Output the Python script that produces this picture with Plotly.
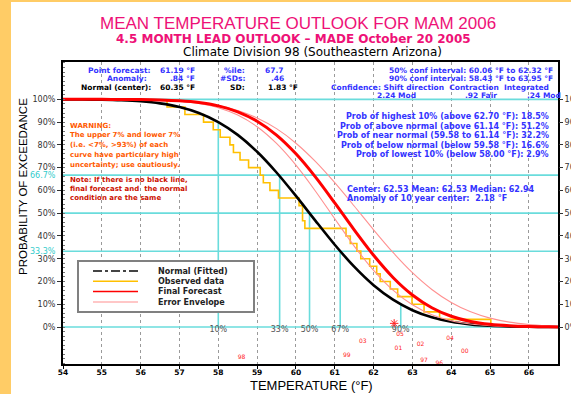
import plotly.graph_objects as go

# ---------------- data ----------------
temps = [54.0, 54.5, 55.0, 55.5, 56.0, 56.5, 57.0, 57.5, 58.0, 58.5, 59.0, 59.5, 60.0,
         60.5, 61.0, 61.5, 62.0, 62.5, 63.0, 63.5, 64.0, 64.5, 65.0, 65.5, 66.0, 66.5, 66.75]
normal_fit = [99.97, 99.93, 99.83, 99.60, 99.13, 98.23, 96.64, 94.03, 90.04, 84.40, 76.97, 67.87, 57.57,
              46.73, 36.13, 26.50, 18.36, 12.00, 7.38, 4.26, 2.30, 1.17, 0.55, 0.24, 0.10, 0.04, 0.02]
final_fcst = [100.0, 100.0, 99.99, 99.96, 99.90, 99.74, 99.37, 98.60, 97.12, 94.53, 90.38, 84.28, 76.06,
              65.94, 54.50, 42.66, 31.49, 21.77, 14.07, 8.46, 4.72, 2.44, 1.17, 0.52, 0.21, 0.08, 0.04]
env_low = [100.0, 100.0, 99.99, 99.96, 99.88, 99.67, 99.20, 98.21, 96.33, 93.07, 87.96, 80.62, 71.09,
           59.75, 47.53, 35.56, 24.86, 16.16, 9.75, 5.42, 2.78, 1.31, 0.57, 0.23, 0.08, 0.03, 0.01]
env_high = [100.0, 99.99, 99.98, 99.94, 99.85, 99.66, 99.28, 98.55, 97.26, 95.13, 91.85, 87.12, 80.73,
            72.74, 63.38, 53.15, 42.70, 32.74, 23.86, 16.50, 10.80, 6.68, 3.90, 2.14, 1.10, 0.53, 0.34]

# observed seasonal means (sorted), drawn as empirical exceedance steps
observed = [56.68, 57.14, 57.62, 57.87, 58.05, 58.30, 58.39, 58.56, 58.78, 59.08, 59.16, 59.33, 59.55,
            60.08, 60.17, 60.17, 60.23, 61.29, 61.40, 61.57, 61.67, 61.90, 62.08, 62.17, 62.43, 62.62,
            62.99, 63.30, 63.70, 65.02]

ref_levels = [0, 33.3, 50, 66.7, 100]
pct_temps = [58.00, 59.58, 60.35, 61.14, 62.70]
pct_heights = [90, 66.7, 50, 33.3, 10]
pct_labels = ["10%", "33%", "50%", "67%", "90%"]

year_labels = ["98", "99", "03", "05", "01", "02", "97", "96", "04", "00"]
year_temps = [58.60, 61.31, 61.72, 62.68, 62.64, 63.21, 63.30, 63.69, 63.97, 64.35]
year_ypos = [-13.2, -12.4, -6.5, -3.5, -9.4, -7.9, -14.8, -16.0, -5.0, -10.8]
center_10yr = 62.53

x_ticks = list(range(54, 67))
y_ticks = list(range(0, 101, 10))

# ---------------- figure ----------------
CYAN = "#6ADCDC"
fig = go.Figure()

for lv in ref_levels:
    fig.add_trace(go.Scatter(x=[54, 66.75], y=[lv, lv], mode="lines",
                             line=dict(color=CYAN, width=1.6), hoverinfo="skip"))
for t, h in zip(pct_temps, pct_heights):
    fig.add_trace(go.Scatter(x=[t, t], y=[0, h], mode="lines",
                             line=dict(color=CYAN, width=1.6), hoverinfo="skip"))

n = len(observed)
obs_exceed = [100.0 * (n - i - 1) / n for i in range(n)]
fig.add_trace(go.Scatter(x=[observed[0]] + observed, y=[100.0] + obs_exceed, mode="lines",
                         line=dict(color="#FFC000", width=1.6, shape="hv")))

fig.add_trace(go.Scatter(x=temps, y=normal_fit, mode="lines",
                         line=dict(color="black", width=2.6, shape="spline", smoothing=0.8)))
fig.add_trace(go.Scatter(x=temps, y=env_low, mode="lines",
                         line=dict(color="#FF9090", width=1.1, shape="spline", smoothing=0.8)))
fig.add_trace(go.Scatter(x=temps, y=env_high, mode="lines",
                         line=dict(color="#FF9090", width=1.1, shape="spline", smoothing=0.8)))
fig.add_trace(go.Scatter(x=temps, y=final_fcst, mode="lines",
                         line=dict(color="#FF0000", width=3, shape="spline", smoothing=0.8)))

fig.add_trace(go.Scatter(x=pct_temps, y=[-1.5] * len(pct_temps), mode="text", text=pct_labels,
                         textfont=dict(size=8, color="#555555", family="DejaVu Sans")))
fig.add_trace(go.Scatter(x=year_temps, y=year_ypos, mode="text", text=year_labels,
                         textfont=dict(size=6, color="#FF2222", family="DejaVu Sans")))
fig.add_trace(go.Scatter(x=[center_10yr], y=[1.6], mode="markers",
                         marker=dict(symbol="asterisk-open", size=7, color="#FF2222",
                                     line=dict(color="#FF2222", width=1))))
# invisible trace for right axis
fig.add_trace(go.Scatter(x=[54], y=[0], yaxis="y2", mode="markers", marker=dict(opacity=0),
                         hoverinfo="skip"))

# ---------------- pixel helpers for layout placement ----------------
L, R, T, B = 63, 558, 62, 364
def X(px):
    return (px - L) / (R - L)
def Y(py):
    return (B - py) / (B - T)

anns = []
def ann(text, px, py, size=7.5, color="#3333FF", anchor="left", bold=True, family="DejaVu Sans", **kw):
    anns.append(dict(text=("<b>%s</b>" % text) if bold else text, x=X(px), y=Y(py),
                     xref="paper", yref="paper", xanchor=anchor, yanchor="middle",
                     showarrow=False, font=dict(size=size, color=color, family=family), **kw))

MAG = "#EE1177"
ann("MEAN TEMPERATURE OUTLOOK FOR MAM 2006", 298, 23.5, size=17, color=MAG, anchor="center",
    bold=False, family="Liberation Sans")
ann("4.5 MONTH LEAD OUTLOOK – MADE October 20 2005", 293, 39.5, size=12, color=MAG,
    anchor="center", family="DejaVu Sans")
ann("Climate Division 98 (Southeastern Arizona)", 312, 51.5, size=12, color="black",
    anchor="center", bold=False)

r1, r2, r3, r4 = 70.5, 79, 87.5, 95.5
ann("Point forecast:", 153, r1, anchor="right")
ann("61.19 °F", 197, r1, anchor="right")
ann("Anomaly:", 149, r2, anchor="right")
ann(".84 °F", 197, r2, anchor="right")
ann("Normal (center):", 153, r3, anchor="right", color="black")
ann("60.35 °F", 197, r3, anchor="right", color="black")
ann("%ile:", 247, r1, anchor="right")
ann("67.7", 286, r1, anchor="right")
ann("#SDs:", 247, r2, anchor="right")
ann(".46", 286, r2, anchor="right")
ann("SD:", 247, r3, anchor="right", color="black")
ann("1.83 °F", 300, r3, anchor="right", color="black")
ann("50% conf interval: 60.06 °F to 62.32 °F", 555, r1, anchor="right")
ann("90% conf interval: 58.43 °F to 63.95 °F", 555, r2, anchor="right")
ann("Confidence: Shift direction  Contraction  Integrated", 551, r3, anchor="right")
ann("2.24 Mod", 396, r4, anchor="center")
ann(".92 Fair", 481, r4, anchor="center")
ann(".24 Mod", 544, r4, anchor="center")

ORG = "#FF5A00"
warn = ["WARNING:", "The upper 7% and lower 7%", "(i.e. <7%, >93%) of each",
        "curve have particulary high", "uncertainty; use cautiously."]
for i, line in enumerate(warn):
    ann(line, 68, 125.5 + 9.9 * i, size=7, color=ORG)
note = ["Note: If there is no black line,", "final forecast and  the normal", "condition are the same"]
for i, line in enumerate(note):
    ann(line, 68, 179.5 + 9.4 * i, size=7, color="#CC1100")

probs = ["Prob of highest 10% (above 62.70 °F): 18.5%",
         "Prob of above normal (above 61.14 °F): 51.2%",
         "Prob of near normal (59.58 to 61.14 °F): 32.2%",
         "Prob of below normal (below 59.58 °F): 16.6%",
         "Prob of lowest 10% (below 58.00 °F): 2.9%"]
for i, line in enumerate(probs):
    ann(line, 551, 116.8 + 9.4 * i, size=8, anchor="right")
ann("Center: 62.53 Mean: 62.53 Median: 62.94", 345, 189.3, size=8)
ann("Anomaly of 10 year center:  2.18 °F", 345, 198.3, size=8)

ann("66.7%", 58, 175.6, size=8, color="#33CCCC", anchor="right", bold=False)
ann("33.3%", 58, 251.2, size=8, color="#33CCCC", anchor="right", bold=False)

ann("TEMPERATURE (°F)", 311, 385, size=13, color="black", anchor="center", bold=False,
    family="Liberation Sans")
anns.append(dict(text="PROBABILITY OF EXCEEDANCE", x=X(23), y=Y(187), xref="paper", yref="paper",
                 xanchor="center", yanchor="middle", textangle=-90, showarrow=False,
                 font=dict(size=11.5, color="black", family="Liberation Sans")))

# legend (drawn by hand)
leg_rows = [271, 281.3, 291.5, 302]
leg_names = ["Normal (Fitted)", "Observed data", "Final Forecast", "Error Envelope"]
leg_colors = ["#444444", "#FFC000", "#FF0000", "#FF9090"]
leg_dash = ["dashdot", "solid", "solid", "solid"]
leg_width = [2, 1.6, 1.6, 1.2]
shapes = [
    dict(type="rect", xref="paper", yref="paper", x0=X(0), x1=X(11), y0=Y(394), y1=Y(0),
         fillcolor="#FFCC66", line=dict(width=0), layer="above"),
    dict(type="rect", xref="paper", yref="paper", x0=X(0), x1=X(571), y0=Y(2), y1=Y(0),
         fillcolor="#FFCC66", line=dict(width=0), layer="above"),
    dict(type="rect", xref="paper", yref="paper", x0=X(78), x1=X(254), y0=Y(312), y1=Y(261),
         fillcolor="white", line=dict(color="#808080", width=2), layer="above"),
]
for py, nm, c, d, w in zip(leg_rows, leg_names, leg_colors, leg_dash, leg_width):
    shapes.append(dict(type="line", xref="paper", yref="paper", x0=X(93), x1=X(138), y0=Y(py), y1=Y(py),
                       line=dict(color=c, width=w, dash=d), layer="above"))
    ann(nm, 156, py, size=8, color="#222222")

fig.update_layout(
    width=571, height=394, autosize=False,
    margin=dict(l=L, r=571 - R, t=T, b=394 - B),
    paper_bgcolor="white", plot_bgcolor="white", showlegend=False,
    annotations=anns, shapes=shapes,
    xaxis=dict(range=[54, 66.75], tickmode="array", tickvals=x_ticks,
               ticktext=["<b>%d</b>" % v for v in x_ticks],
               tickfont=dict(size=7.5, color="black", family="DejaVu Sans"),
               showline=True, linecolor="black", linewidth=2, mirror=True,
               ticks="outside", ticklen=3, tickcolor="black", ticklabelstandoff=-3,
               showgrid=True, gridcolor="#9A9A9A", griddash="dot", gridwidth=1, zeroline=False),
    yaxis=dict(range=[-16.25, 116.4], tickmode="array", tickvals=y_ticks,
               ticktext=["%d%%" % v for v in y_ticks],
               tickfont=dict(size=8, color="#333333", family="DejaVu Sans"),
               showline=True, linecolor="black", linewidth=2, mirror=True,
               ticks="outside", ticklen=4, tickcolor="#333333",
               minor=dict(ticks="inside", ticklen=2, dtick=2, tick0=0, tickcolor="#777777"),
               showgrid=False, zeroline=False),
    yaxis2=dict(range=[-16.25, 116.4], overlaying="y", side="right", tickmode="array",
                tickvals=y_ticks, ticktext=["%d%%" % v for v in y_ticks],
                tickfont=dict(size=8, color="#333333", family="DejaVu Sans"),
                ticks="outside", ticklen=4, tickcolor="#333333", showgrid=False,
                zeroline=False, automargin=False, showline=False),
)

fig.write_html("out.html", config={"displayModeBar": False},
               post_script="document.body.style.margin='0px';document.body.style.padding='0px';")
